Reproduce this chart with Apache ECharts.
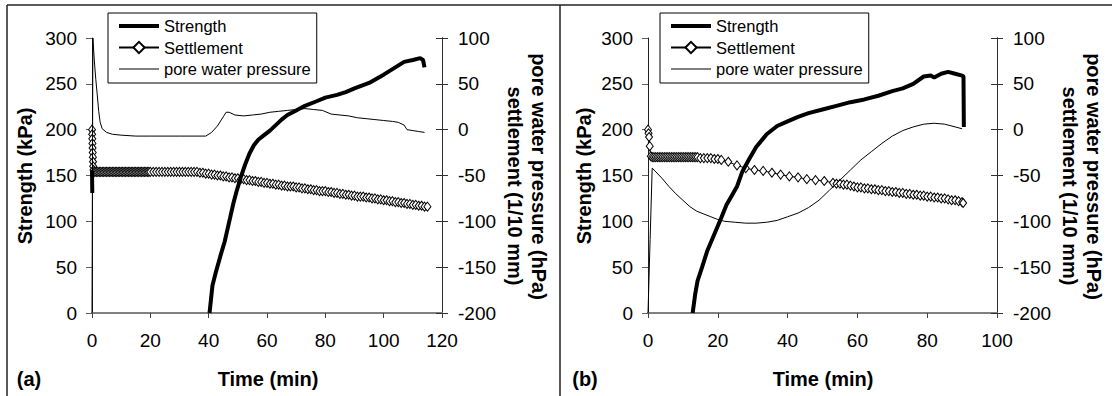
<!DOCTYPE html>
<html>
<head>
<meta charset="utf-8">
<script src="https://cdn.jsdelivr.net/npm/echarts@6/dist/echarts.min.js"></script>
<style>
html,body{margin:0;padding:0;background:#fff;}
#c{width:1112px;height:396px;}
</style>
</head>
<body>
<div id="c"></div>
<script>
// ---- Data (time in min) ----
const seriesNames = ['Strength', 'Settlement', 'pore water pressure'];
const xTicksA = [0, 20, 40, 60, 80, 100, 120];
const xTicksB = [0, 20, 40, 60, 80, 100];
const leftTicks = [0, 50, 100, 150, 200, 250, 300];
const rightTicks = [-200, -150, -100, -50, 0, 50, 100];

// Panel (a)
const strengthA = [[0,155],[0.1,131],[0.2,'-'],[40.3,0],[40.8,15],[41.3,30],[42.5,45],[44,62],[45.5,78],[46.5,92],[47.5,106],[48.5,120],[49.5,132],[51,148],[52.5,162],[54,174],[55.5,183],[57,189],[59,194],[61,199],[63,205],[65,211],[67,216],[70,221],[73,226],[77,231],[80,235],[84,238],[87,241],[90,245],[95,251],[100,260],[104,268],[107,274],[110,276],[112.5,278],[113.5,276],[114,268]];
const settlementA = [[0,0],[0.05,-5],[0.1,-10],[0.15,-15],[0.2,-20],[0.25,-25],[0.3,-30],[0.35,-35],[0.4,-40],[0.5,-44],[0.7,-46],
 [1,-46],[1.5,-46],[2,-46],[2.5,-46],[3,-46],[3.5,-46],[4,-46],[4.5,-46],[5,-46],[5.5,-46],[6,-46],[6.5,-46],[7,-46],[7.5,-46],[8,-46],[8.5,-46],[9,-46],[9.5,-46],[10,-46],[10.5,-46],[11,-46],[11.5,-46],[12,-46],[12.5,-46],[13,-46],[13.5,-46],[14,-46],[14.5,-46],[15,-46],[15.5,-46],[16,-46],[16.5,-46],[17,-46],[17.5,-46],[18,-46],[18.5,-46],[19,-46],[19.5,-46],[20,-46],[21,-46],[22,-46],[23,-46],[24,-46],[25,-46],[26,-46],[27,-46],[28,-46],[29,-46],[30,-46],[31,-46],[32,-46],[33,-46],[34,-46],[35,-46],[36,-46],
 [37,-47],[38,-47],[39,-48],[40,-48],[41,-49],[42,-49],[43,-50],[44,-50],[45,-51],[46,-51],[47,-52],[48,-52],[49,-53],[50,-53],[51,-54],[52,-54],[53,-55],[54,-55],[55,-56],[56,-56],[57,-57],[58,-57],[59,-58],[60,-58],[61,-59],[62,-59],[63,-60],[64,-60],[65,-61],[66,-61],[67,-62],[68,-62],[69,-62],[70,-63],[71,-63],[72,-64],[73,-64],[74,-65],[75,-65],[76,-66],[77,-66],[78,-67],[79,-67],[80,-67],[81,-68],[82,-68],[83,-69],[84,-69],[85,-70],[86,-70],[87,-71],[88,-71],[89,-72],[90,-72],[91,-73],[92,-73],[93,-73],[94,-74],[95,-74],[96,-75],[97,-75],[98,-76],[99,-76],[100,-77],[101,-77],[102,-78],[103,-78],[104,-79],[105,-79],[106,-80],[107,-80],[108,-81],[109,-81],[110,-82],[111,-82],[112,-83],[113,-83],[114,-84],[115,-84]];
const poreA = [[0,-200],[0.3,100],[0.8,75],[1.3,55],[1.8,38],[2.3,20],[2.8,8],[3.5,1],[5,-3],[7,-5],[10,-6],[15,-7],[20,-7],[25,-7],[30,-7],[35,-7],[39,-7],[41,-3],[43,4],[45,14],[46,19],[47,19],[49,16],[52,15],[55,16],[58,17],[61,19],[64,20],[67,21],[70,22],[73,23],[76,22],[79,21],[82,17],[85,16],[88,15],[91,13],[94,12],[97,11],[100,10],[103,9],[105,8],[107,5],[108,0],[110,-1],[112,-2],[114,-3]];

// Panel (b)
const strengthB = [[12.8,0],[13.5,20],[14.2,35],[15.5,50],[17,68],[19,86],[21,104],[22.5,118],[24,128],[25.5,138],[27,154],[29,168],[31,181],[34,195],[37,204],[40,209],[43,214],[46,218],[50,222],[54,226],[58,230],[62,233],[66,237],[70,242],[73,245],[76,250],[79,258],[81,259],[82,257],[84,261],[86,263],[88,261],[90,259],[90.4,258],[90.5,203]];
const settlementB = [[0,0],[0.15,-4],[0.3,-8],[0.5,-18],[0.8,-29],[1.2,-30],
 [1.7,-30],[2.2,-30],[2.7,-30],[3.2,-30],[3.7,-30],[4.2,-30],[4.7,-30],[5.2,-30],[5.7,-30],[6.2,-30],[6.7,-30],[7.2,-30],[7.7,-30],[8.2,-30],[8.7,-30],[9.2,-30],[9.7,-30],[10.2,-30],[10.7,-30],[11.2,-30],[11.7,-30],[12.2,-30],[12.7,-30],[13.2,-30],[13.7,-30],[14.2,-30],[15,-31],[16,-31],[17,-31],[18,-31],[19,-32],[20,-32],
 [21,-33],[23,-35],[25.5,-39],[28,-42],[30.5,-44],[33,-45],[35.5,-47],[38,-49],[40.5,-51],[43,-52],[45.5,-54],[48,-55],[50.5,-56],[53,-58],
 [54,-59],[55,-59],[56,-60],[57,-60],[58,-61],[59,-62],[60,-63],[61,-63],[62,-64],[63,-64],[64,-65],[65,-65],[66,-66],[67,-66],[68,-67],[69,-67],[70,-68],[71,-68],[72,-69],[73,-69],[74,-70],[75,-70],[76,-71],[77,-71],[78,-72],[79,-72],[80,-73],[81,-73],[82,-74],[83,-74],[84,-75],[85,-75],[86,-76],[87,-77],[88,-77],[89,-78],[90,-79],[90.3,-80]];
const poreB = [[0,-200],[0.6,-120],[1.2,-42],[2,-45],[4,-53],[6,-62],[8,-70],[10,-77],[12,-84],[14,-89],[16,-92],[18,-95],[20,-98],[22,-100],[25,-101],[28,-102],[31,-102],[34,-101],[37,-99],[40,-95],[43,-91],[46,-85],[49,-77],[52,-66],[55,-55],[58,-44],[61,-33],[64,-24],[67,-15],[70,-7],[73,-1],[76,3],[79,6],[82,7],[85,6],[88,3],[90,1]];

// ---- Chart ----
const FONT = "'Liberation Sans', Arial, sans-serif";
const chart = echarts.init(document.getElementById('c'), null, {renderer: 'svg'});

function xAxisDef(gridIndex, max) {
  return {
    type: 'value', gridIndex: gridIndex, min: 0, max: max, interval: 20,
    axisLine: {show: true, onZero: false, lineStyle: {color: '#808080', width: 2}},
    axisTick: {show: true, length: 5, lineStyle: {color: '#404040', width: 1}},
    axisLabel: {color: '#000', fontSize: 19, fontFamily: FONT, margin: 18},
    splitLine: {show: false}
  };
}
function leftY(gridIndex) {
  return {
    type: 'value', gridIndex: gridIndex, position: 'left', min: 0, max: 300, interval: 50,
    axisLine: {show: true, onZero: false, lineStyle: {color: '#202020', width: 1}},
    axisTick: {show: true, length: 6, lineStyle: {color: '#606060', width: 1}},
    axisLabel: {color: '#000', fontSize: 19, fontFamily: FONT, margin: 15},
    splitLine: {show: false}
  };
}
function rightY(gridIndex, inside) {
  return {
    type: 'value', gridIndex: gridIndex, position: 'right', min: -200, max: 100, interval: 50,
    axisLine: {show: true, onZero: false, lineStyle: {color: '#303030', width: 1}},
    axisTick: {show: true, inside: inside, length: 6, lineStyle: {color: '#303030', width: 1}},
    axisLabel: {show: !inside, color: '#000', fontSize: 19, fontFamily: FONT, margin: 16},
    splitLine: {show: false}
  };
}
function legendDef(left) {
  return {
    left: left, top: 13, orient: 'vertical',
    data: [
      {name: 'Strength', icon: 'path://M0,0H40V4H0Z'},
      {name: 'Settlement'},
      {name: 'pore water pressure', icon: 'path://M0,0H40V1.2H0Z'}
    ],
    itemWidth: 40, itemHeight: 14, itemGap: 3.5,
    padding: [4, 6, 5, 10],
    borderColor: '#000', borderWidth: 1, backgroundColor: '#fff',
    textStyle: {color: '#000', fontSize: 16.5, fontFamily: FONT, lineHeight: 18},
    selectedMode: false
  };
}
function seriesFor(xi, yl, yr, strength, settlement, pore) {
  return [
    {name: 'Settlement', type: 'line', xAxisIndex: xi, yAxisIndex: yr, data: settlement,
     symbol: 'diamond', symbolSize: [7, 9], showSymbol: true,
     lineStyle: {color: '#000', width: 1}, itemStyle: {color: '#fff', borderColor: '#000', borderWidth: 1},
     animation: false, z: 2},
    {name: 'pore water pressure', type: 'line', xAxisIndex: xi, yAxisIndex: yr, data: pore,
     symbol: 'none', lineStyle: {color: '#000', width: 1}, itemStyle: {color: '#000'},
     animation: false, z: 3},
    {name: 'Strength', type: 'line', xAxisIndex: xi, yAxisIndex: yl, data: strength,
     symbol: 'none', connectNulls: false, lineStyle: {color: '#000', width: 4}, itemStyle: {color: '#000'},
     animation: false, z: 4}
  ];
}
function txt(t, x, y, rot, size, bold) {
  return {type: 'text', x: x, y: y, rotation: rot, silent: true,
    style: {text: t, fill: '#000', fontSize: size, fontWeight: bold ? 'bold' : 'normal', fontFamily: FONT,
            align: 'center', verticalAlign: 'middle'}};
}
function ln(x1, y1, x2, y2) {
  return {type: 'line', silent: true, shape: {x1: x1, y1: y1, x2: x2, y2: y2},
    style: {stroke: '#222', lineWidth: 1.5}};
}

const option = {
  backgroundColor: '#fff',
  animation: false,
  grid: [
    {left: 92, top: 38, width: 350, height: 275, containLabel: false},
    {left: 648, top: 38, width: 349, height: 275, containLabel: false}
  ],
  xAxis: [xAxisDef(0, 120), xAxisDef(1, 100)],
  yAxis: [leftY(0), rightY(0, false), rightY(0, true), leftY(1), rightY(1, false), rightY(1, true)],
  legend: [legendDef(108), legendDef(660)],
  series: [].concat(
    seriesFor(0, 0, 1, strengthA, settlementA, poreA),
    seriesFor(1, 3, 4, strengthB, settlementB, poreB)
  ),
  graphic: [
    ln(7, 5, 1112, 5), ln(7, 5, 7, 396), ln(560, 5, 560, 396),
    txt('Strength (kPa)', 25, 176, Math.PI / 2, 20, true),
    txt('Strength (kPa)', 584, 176, Math.PI / 2, 20, true),
    txt('pore water pressure (hPa)', 538.5, 176.5, -Math.PI / 2, 20, true),
    txt('settlement (1/10 mm)', 515, 186, -Math.PI / 2, 20, true),
    txt('pore water pressure (hPa)', 1093.5, 176.5, -Math.PI / 2, 20, true),
    txt('settlement (1/10 mm)', 1070, 186, -Math.PI / 2, 20, true),
    txt('Time (min)', 268, 379, 0, 20, true),
    txt('Time (min)', 823, 379, 0, 20, true),
    txt('(a)', 29, 379, 0, 20, true),
    txt('(b)', 585, 379, 0, 20, true)
  ]
};
chart.setOption(option);
</script>
</body>
</html>
